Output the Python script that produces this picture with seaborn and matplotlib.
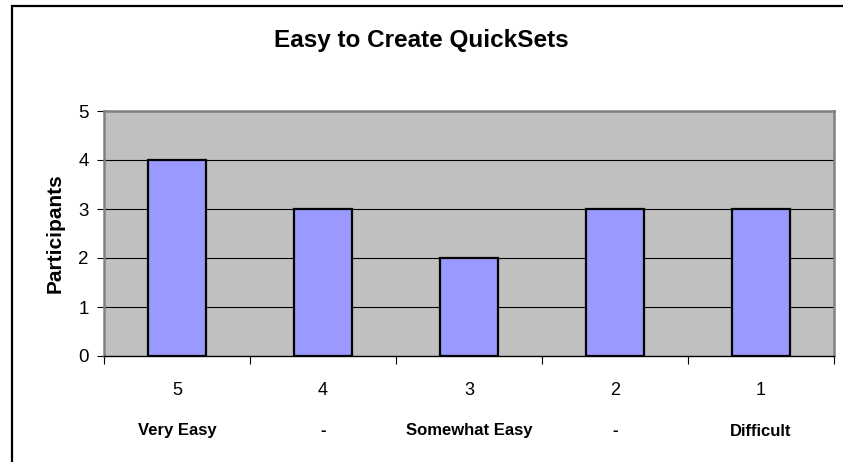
import matplotlib
matplotlib.use("Agg")
import matplotlib.pyplot as plt
import matplotlib.patches as mpatches
import pandas as pd
import seaborn as sns

sns.set_style("white")
plt.rcParams["font.family"] = ["Liberation Sans", "DejaVu Sans"]
plt.rcParams["text.color"] = "black"
plt.rcParams["axes.labelcolor"] = "black"
plt.rcParams["xtick.color"] = "black"
plt.rcParams["ytick.color"] = "black"

# -----------------------------
# DATA
# -----------------------------
ratings = ["5", "4", "3", "2", "1"]
descriptions = ["Very Easy", "-", "Somewhat Easy", "-", "Difficult"]
participants = [4, 3, 2, 3, 3]
y_ticks = [0, 1, 2, 3, 4, 5]

df = pd.DataFrame({"Rating": ratings, "Participants": participants})

# -----------------------------
# FIGURE
# -----------------------------
W, H = 843, 462
fig = plt.figure(figsize=(W / 100, H / 100), dpi=100)
fig.patch.set_facecolor("white")

# outer chart border (runs off the right / bottom edge like the source)
fig.add_artist(mpatches.Rectangle((12 / W, -0.2), 1.2, 1.2 - 6 / H,
                                  transform=fig.transFigure, fill=False,
                                  edgecolor="black", linewidth=1.6))

ax = fig.add_axes([104 / W, 1 - 356 / H, (834 - 104) / W, (356 - 111) / H])
ax.set_facecolor("#C0C0C0")

sns.barplot(data=df, x="Rating", y="Participants", order=ratings,
            color="#9999FF", edgecolor="black", linewidth=1.6,
            width=0.4, saturation=1, ax=ax, zorder=3)

ax.set_ylim(0, 5)
ax.set_xlim(-0.5, len(ratings) - 0.5)
ax.set_yticks(y_ticks)
ax.set_yticklabels([str(v) for v in y_ticks], fontsize=13.5)
for v in y_ticks[1:-1]:
    ax.axhline(v, color="black", linewidth=0.8, zorder=1)

# spines
for side in ["top", "right", "left"]:
    ax.spines[side].set_color("#808080")
    ax.spines[side].set_linewidth(1.8)
ax.spines["bottom"].set_color("black")
ax.spines["bottom"].set_linewidth(1.0)

ax.tick_params(axis="y", length=5, width=0.8, pad=6, left=True)
# category labels without tick marks, ticks on the category boundaries
ax.tick_params(axis="x", which="major", length=0, pad=19)
ax.set_xticks([i - 0.5 for i in range(len(ratings) + 1)], minor=True)
ax.tick_params(axis="x", which="minor", length=5.5, width=0.8, bottom=True)
ax.set_xticks(range(len(ratings)))
ax.set_xticklabels(ratings, fontsize=13)

# second row of category descriptions
for i, d in enumerate(descriptions):
    ax.text(i, -75 / 245, d, transform=ax.get_xaxis_transform(),
            ha="center", va="center", fontsize=12, fontweight="bold")

ax.set_xlabel("")
ax.set_ylabel("Participants", fontsize=15, fontweight="bold", labelpad=10)

fig.text(421 / W, 1 - 40 / H, "Easy to Create QuickSets", ha="center",
         va="center", fontsize=17.5, fontweight="bold")

fig.savefig("out.png", dpi=100)
